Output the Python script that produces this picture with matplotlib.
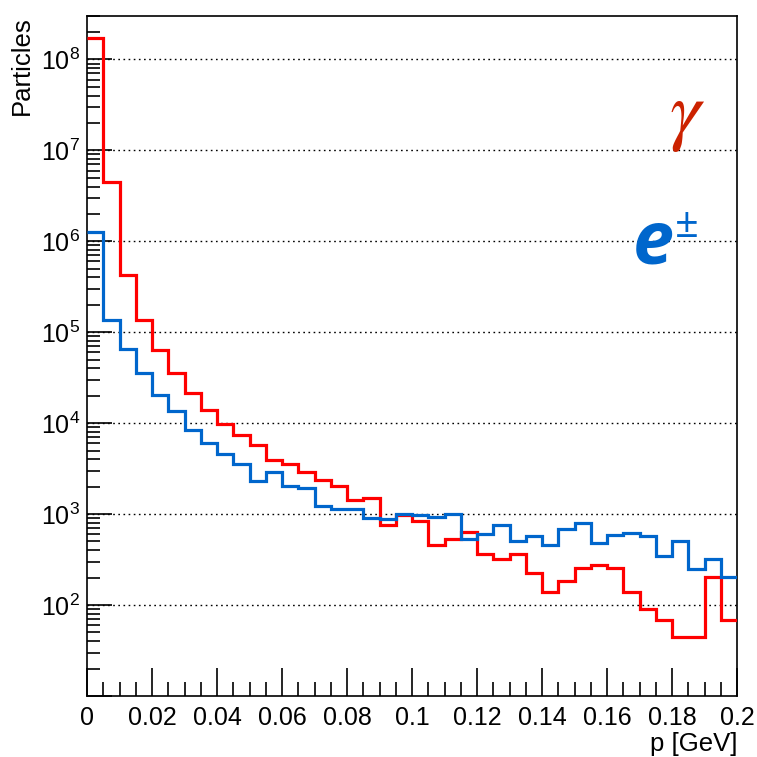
import numpy as np
import matplotlib
matplotlib.use("Agg")
import matplotlib.pyplot as plt
from matplotlib.ticker import LogLocator, FixedLocator, NullFormatter, FuncFormatter

# Histogram definition: 40 bins from 0 to 0.2 GeV
x_min, x_max, n_bins = 0.0, 0.2, 40

gamma_counts = [1.72e8, 4.45e6, 4.3e5, 1.38e5, 6.35e4, 3.57e4, 2.13e4, 1.41e4, 9.7e3, 7.4e3,
                5.7e3, 3.96e3, 3.6e3, 2.94e3, 2.37e3, 2.06e3, 1.42e3, 1.5e3, 765, 972,
                850, 461, 528, 641, 366, 323, 366, 226, 138, 184,
                254, 276, 254, 139, 91.6, 68.7, 45, 45, 205, 68.7]

electron_counts = [1.26e6, 1.35e5, 6.46e4, 3.6e4, 2.05e4, 1.35e4, 8.4e3, 6.1e3, 4.6e3, 3.6e3,
                   2.32e3, 2.94e3, 2.03e3, 1.93e3, 1.23e3, 1.15e3, 1.15e3, 914, 877, 1.01e3,
                   972, 940, 1.01e3, 528, 600, 760, 502, 574, 457, 688,
                   794, 482, 594, 616, 575, 343, 502, 251, 318, 205]

x_ticks = [0, 0.02, 0.04, 0.06, 0.08, 0.1, 0.12, 0.14, 0.16, 0.18, 0.2]
x_tick_labels = ["0", "0.02", "0.04", "0.06", "0.08", "0.1", "0.12", "0.14", "0.16", "0.18", "0.2"]

plt.rcParams['font.family'] = ['Liberation Sans', 'DejaVu Sans']
plt.rcParams['mathtext.fontset'] = 'custom'
plt.rcParams['mathtext.rm'] = 'Liberation Sans'
plt.rcParams['mathtext.it'] = 'Liberation Sans:italic'
plt.rcParams['mathtext.bf'] = 'Liberation Sans:bold'

fig = plt.figure(figsize=(7.57, 7.57), dpi=100)
ax = fig.add_axes([87/757, 1-696/757, 650/757, 680/757])

edges = np.linspace(x_min, x_max, n_bins + 1)
ax.stairs(gamma_counts, edges, baseline=None, color='#ff0000', linewidth=2.3, zorder=3)
ax.stairs(electron_counts, edges, baseline=None, color='#0066cc', linewidth=2.3, zorder=3)

ax.set_yscale('log')
ax.set_xlim(x_min, x_max)
ax.set_ylim(10, 3.0e8)

# x ticks
ax.set_xticks(x_ticks)
ax.set_xticklabels(x_tick_labels)
ax.xaxis.set_minor_locator(FixedLocator(np.arange(0, 0.2001, 0.005)))

# y ticks
ax.yaxis.set_major_locator(FixedLocator([10.0**k for k in range(1, 9)]))
def yfmt(v, pos):
    k = int(round(np.log10(v)))
    if k < 2:
        return ""
    return r"$10^{%d}$" % k
ax.yaxis.set_major_formatter(FuncFormatter(yfmt))
ax.yaxis.set_minor_locator(LogLocator(base=10, subs=np.arange(2, 10), numticks=20))
ax.yaxis.set_minor_formatter(NullFormatter())

ax.tick_params(axis='both', which='both', direction='in', top=False, right=False,
               labelsize=18, colors='black', pad=7)
ax.tick_params(axis='x', which='major', length=20, width=1.2)
ax.tick_params(axis='x', which='minor', length=10, width=1.2)
ax.tick_params(axis='y', which='major', length=18, width=1.2, pad=5)
ax.tick_params(axis='y', which='minor', length=9, width=1.2)

for s in ax.spines.values():
    s.set_linewidth(1.2)

# grid at decades
for k in range(2, 9):
    ax.axhline(10.0**k, color='black', linestyle=(0, (1.2, 2.5)), linewidth=1.0, zorder=1)

ax.set_ylabel("Particles", fontsize=18.5)
ax.yaxis.set_label_coords(-0.082, 1.0)
ax.yaxis.label.set_horizontalalignment('right')
ax.set_xlabel("p [GeV]", fontsize=18.5)
ax.xaxis.set_label_coords(1.0, -0.053)
ax.xaxis.label.set_horizontalalignment('right')

# labels in the plot
fig.text(687/757, 1-118/757, r"$\gamma$", color='#cc2200', fontsize=56,
         ha='center', va='center', math_fontfamily='stix')
fig.text(633/757, 1-244/757, "e", color='#0066cc', fontsize=53, fontweight='bold',
         fontstyle='italic', family='Open Sans', ha='left', va='center')
fig.text(675/757, 1-226/757, "\u00b1", color='#0066cc', fontsize=30,
         family='Open Sans', ha='left', va='center')

fig.savefig("out.png", dpi=100)
